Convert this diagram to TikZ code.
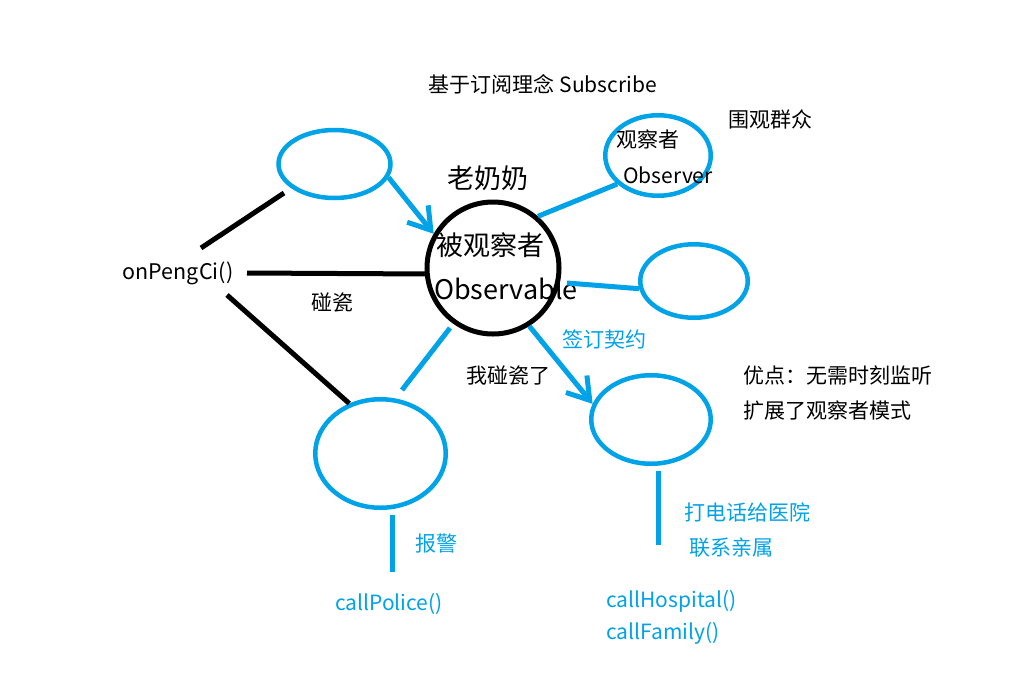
\documentclass[tikz,border=0pt]{standalone}
\usepackage{fontspec}
\setmainfont{Noto Sans CJK SC}
\usetikzlibrary{arrows.meta,positioning,shapes.geometric}
\definecolor{paint}{RGB}{0,162,232}
\tikzset{
  bubble/.style={ellipse,draw=paint,line width=4.5pt,inner sep=0pt},
  blueline/.style={draw=paint,line width=5pt},
  blackline/.style={draw=black,line width=5pt},
  barb/.style={-{Straight Barb[length=21pt,width=27pt]}},
  lab/.style={font=\fontsize{21}{24}\selectfont,inner sep=0pt},
  bluelab/.style={lab,text=paint},
  big/.style={font=\fontsize{27}{30}\selectfont,inner sep=0pt}
}
\begin{document}
\begin{tikzpicture}[x=1pt,y=-1pt]
  \fill[white] (0,0) rectangle (1012,681);
  \useasboundingbox (0,0) rectangle (1012,681);
  % the observed one and the bubbles round it
  \node[circle,draw,line width=5pt,minimum size=132pt,inner sep=0pt] (obs) at (493,268) {};
  \node[bubble,minimum width=112pt,minimum height=68pt] (tl) at (334.5,164) {};
  \node[bubble,minimum width=105.5pt,minimum height=80.5pt] (obsr) at (658,155.5) {};
  \node[bubble,minimum width=107.5pt,minimum height=73.5pt] (rt) at (694,281) {};
  \node[bubble,minimum width=119.5pt,minimum height=88.5pt] (br) at (651,419.5) {};
  \node[bubble,minimum width=130.5pt,minimum height=108.5pt] (bl) at (380.5,453.5) {};
  % texts
  \node[lab] (title) at (543,84) {基于订阅理念 Subscribe};
  \node[lab] (crowd) at (770,119) {围观群众};
  \node[lab] (gcz) at (648,139) {观察者};
  \node[lab] (observer) at (668,175) {Observer};
  \node[big] (granny) at (488,178) {老奶奶};
  \node[big] (bgcz) at (490,245) {被观察者};
  \node[big,anchor=west] (observable) at (434,289) {Observable};
  \node[lab,font=\fontsize{21.5}{24}\selectfont] (peng) at (178,273) {onPengCi()};
  \node[lab] (pc) at (332,302) {碰瓷};
  \node[bluelab] (contract) at (604,339) {签订契约};
  \node[lab] (ipc) at (508,376) {我碰瓷了};
  \node[lab,anchor=west] (pro1) at (743,375) {优点：无需时刻监听};
  \node[lab,anchor=west] (pro2) at (743,411) {扩展了观察者模式};
  \node[bluelab,anchor=west] (hosp) at (684,512) {打电话给医院};
  \node[bluelab,anchor=west] (fam) at (689,548) {联系亲属};
  \node[bluelab,anchor=west] (callh) at (606,601) {callHospital()};
  \node[bluelab,anchor=west] (callf) at (606,633) {callFamily()};
  \node[bluelab] (police) at (436,544) {报警};
  \node[bluelab] (callp) at (389,604) {callPolice()};
  % free ends
  \coordinate (p1) at (201,248);
  \coordinate (p1e) at (284,193);
  \coordinate (p2) at (247,273);
  \coordinate (p3) at (227,295);
  \coordinate (rs) at (567,283);
  \coordinate (ls) at (450,328);
  \coordinate (le) at (402,390);
  \coordinate (bt) at (392,515);
  \coordinate (bb) at (392,572);
  \coordinate (rtop) at (658,471);
  \coordinate (rbot) at (658,545);
  % connectors
  \draw[blackline] (p1) -- (p1e);
  \draw[blackline] (p2) -- (obs.185);
  \draw[blackline] (p3) -- (bl.122);
  \draw[blueline,barb] (tl.-14) -- (obs.150);
  \draw[blueline] (obs.49) -- (obsr.215);
  \draw[blueline] (rs) -- (rt.188);
  \draw[blueline,barb] (obs.-58) -- (br.165);
  \draw[blueline] (ls) -- (le);
  \draw[blueline] (bt) -- (bb);
  \draw[blueline] (rtop) -- (rbot);
\end{tikzpicture}
\end{document}
